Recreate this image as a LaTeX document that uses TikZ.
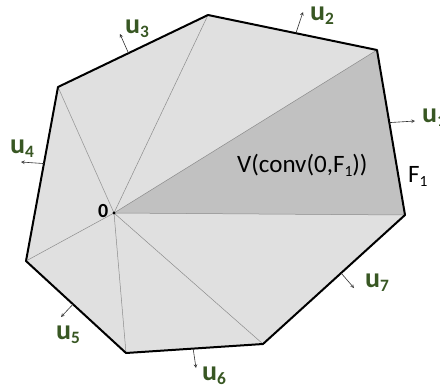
\documentclass[tikz,border=0pt]{standalone}
\usepackage{fontspec}
\setmainfont{Carlito}
\usetikzlibrary{calc}
\definecolor{hullgray}{RGB}{224,224,224}
\definecolor{conegray}{RGB}{193,193,193}
\definecolor{normalgreen}{RGB}{56,87,35}
\newcommand{\lowsub}[1]{\raisebox{-0.35ex}{\scalebox{0.62}{#1}}}
\tikzset{
  hull edge/.style={line width=2pt,draw=black,line join=round,line cap=round},
  fan line/.style={draw=black!45,line width=0.5pt},
  normal arrow/.style={->,>=stealth,line width=0.6pt,draw=black!80},
  normal label/.style={anchor=base west,inner sep=0pt,text=normalgreen,
    font=\fontsize{28}{32}\selectfont\bfseries},
  plain label/.style={anchor=base west,inner sep=0pt,font=\fontsize{25}{30}\selectfont}
}

\begin{document}
\begin{tikzpicture}[x=1pt,y=-1pt]
  \useasboundingbox (0,0) rectangle (440,389);
  % vertices of the polygon, origin inside
  \coordinate (O) at (114,213);
  \coordinate (v1) at (377,50);
  \coordinate (v2) at (208,15);
  \coordinate (v3) at (58,87);
  \coordinate (v4) at (26,261);
  \coordinate (v5) at (126,353);
  \coordinate (v6) at (263,344);
  \coordinate (v7) at (405,215);

  \fill[hullgray] (v1)--(v2)--(v3)--(v4)--(v5)--(v6)--(v7)--cycle;
  \fill[conegray] (O)--(v1)--(v7)--cycle;
  \foreach \i in {1,...,7}
    \draw[fan line] (O)--(v\i);
  \draw[hull edge] (v1)--(v2)--(v3)--(v4)--(v5)--(v6)--(v7)--cycle;
  \fill (O) circle (1.6pt);

  % outer normals
  \coordinate (t1) at ($(v1)!0.44!(v7)$);
  \coordinate (t2) at ($(v1)!0.48!(v2)$);
  \coordinate (t3) at ($(v2)!0.53!(v3)$);
  \coordinate (t4) at ($(v3)!0.44!(v4)$);
  \coordinate (t5) at ($(v4)!0.47!(v5)$);
  \coordinate (t6) at ($(v5)!0.49!(v6)$);
  \coordinate (t7) at ($(v6)!0.55!(v7)$);
  \coordinate (h1) at (415,121);
  \coordinate (h2) at (303,12);
  \coordinate (h3) at (120,34);
  \coordinate (h4) at (21,162);
  \coordinate (h5) at (61,317);
  \coordinate (h6) at (196,368);
  \coordinate (h7) at (354,288);
  \foreach \i in {1,...,7}
    \draw[normal arrow] (t\i)--(h\i);

  \node[normal label] (u1) at (422,122) {u\lowsub{1}};
  \node[normal label] (u2) at (310,20) {u\lowsub{2}};
  \node[normal label] (u3) at (125,33) {u\lowsub{3}};
  \node[normal label] (u4) at (10,153) {u\lowsub{4}};
  \node[normal label] (u5) at (56,339) {u\lowsub{5}};
  \node[normal label] (u6) at (202,380) {u\lowsub{6}};
  \node[normal label] (u7) at (365,287) {u\lowsub{7}};

  \node[plain label,font=\fontsize{20}{24}\selectfont\bfseries] (zero) at (98,217) {0};
  \node[plain label] (cone) at (237,172) {V(conv(0,F\lowsub{1}))};
  \node[plain label] (face) at (408,182) {F\lowsub{1}};
\end{tikzpicture}
\end{document}
